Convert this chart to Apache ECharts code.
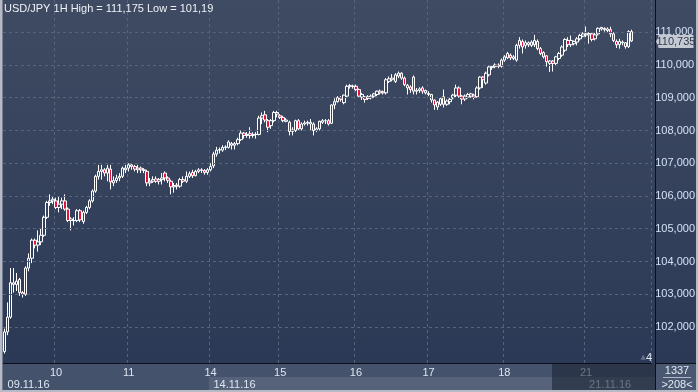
<!DOCTYPE html>
<html><head><meta charset="utf-8">
<script src="https://cdn.jsdelivr.net/npm/echarts@6/dist/echarts.min.js"></script>
<style>html,body{margin:0;padding:0;background:#2d3a55;}#c{width:698px;height:392px;}</style>
</head><body><div id="c"></div>
<script>
// ---- data ----
const titleText = 'USD/JPY 1H High = 111,175 Low = 101,19';
const dayNames  = ['09','10','11','14','15','16','17','18','21'];
const dayCounts = [17,24,27,23,25,24,25,27,16];
const weekLabels = {'09':'09.11.16','14':'14.11.16','21':'21.11.16'};
const padSlots = 6;
const yTicks = [102,103,104,105,106,107,108,109,110,111];
const lastPrice = 110.735;
const barCountText = '1337';
const visibleText = '>208<';
// [open, close, low, high]
const ohlc = [
[101.25,101.85,101.19,101.95],[101.85,102.3,101.75,102.75],[102.3,103.35,102.25,103.8],[103.35,103.3,103.05,103.8],
[103.3,103.4,103.1,103.65],[103.45,103.05,102.95,103.5],[103.05,103.0,102.9,103.1],[103.0,103.8,102.95,103.85],
[103.8,104.1,103.7,104.25],[104.1,104.65,103.95,104.7],[104.65,104.5,104.4,104.7],[104.5,104.6,104.3,104.95],
[104.6,104.8,104.5,105.0],[104.8,105.35,104.75,105.4],[105.35,105.8,105.3,105.85],[105.8,105.85,105.7,106.05],
[105.85,105.9,105.75,106.0],[105.85,105.65,105.6,105.95],[105.65,105.75,105.5,106.0],[105.75,105.85,105.6,105.95],
[105.85,105.6,105.55,106.05],[105.6,105.25,105.2,105.65],[105.25,105.3,104.95,105.35],[105.25,105.25,105.1,105.35],
[105.25,105.55,105.2,105.6],[105.55,105.27,105.2,105.6],[105.22,105.5,105.15,105.55],[105.5,105.65,105.45,105.7],
[105.65,105.85,105.6,105.9],[105.85,106.15,105.8,106.2],[106.15,106.6,106.1,106.65],[106.6,106.75,106.5,106.95],
[106.75,106.8,106.5,106.95],[106.8,106.7,106.6,106.85],[106.7,106.85,106.45,106.95],[106.82,106.43,106.2,106.95],
[106.4,106.47,106.3,106.6],[106.47,106.55,106.4,106.65],[106.55,106.6,106.45,106.7],[106.6,106.85,106.55,106.9],
[106.8,106.85,106.7,106.95],[106.85,106.95,106.75,107.0],[106.95,106.9,106.8,107.0],[106.9,106.82,106.75,106.95],
[106.8,106.85,106.7,106.95],[106.85,106.8,106.7,106.9],[106.8,106.78,106.7,106.85],[106.75,106.4,106.3,106.8],
[106.4,106.45,106.3,106.55],[106.45,106.5,106.4,106.6],[106.52,106.45,106.4,106.6],[106.45,106.5,106.35,106.55],
[106.5,106.55,106.35,106.7],[106.7,106.55,106.45,106.75],[106.55,106.48,106.4,106.6],[106.45,106.28,106.05,106.5],
[106.28,106.32,106.1,106.4],[106.33,106.3,106.2,106.4],[106.3,106.5,106.25,106.55],[106.5,106.45,106.4,106.6],
[106.45,106.6,106.4,106.75],[106.6,106.68,106.55,106.75],[106.72,106.62,106.55,106.8],[106.62,106.75,106.6,106.8],
[106.75,106.8,106.7,106.85],[106.8,106.78,106.7,106.85],[106.78,106.72,106.65,106.82],[106.72,106.8,106.65,106.85],
[106.8,106.9,106.75,107.0],[106.92,107.28,106.85,107.35],[107.28,107.4,107.2,107.5],[107.4,107.42,107.3,107.48],
[107.4,107.48,107.35,107.55],[107.48,107.5,107.4,107.55],[107.48,107.65,107.45,107.7],[107.6,107.55,107.42,107.65],
[107.55,107.6,107.42,107.65],[107.6,107.72,107.55,107.78],[107.72,107.92,107.68,108.0],[107.92,107.85,107.75,107.95],
[107.85,107.88,107.78,107.95],[107.9,107.85,107.75,108.1],[107.85,107.88,107.78,107.95],[107.88,107.88,107.75,107.95],
[107.88,108.38,107.85,108.45],[108.38,108.45,108.2,108.55],[108.48,108.32,108.25,108.6],[108.3,108.1,107.95,108.35],
[108.15,108.3,108.05,108.35],[108.3,108.55,108.25,108.6],[108.5,108.55,108.4,108.6],[108.45,108.4,108.35,108.5],
[108.4,108.3,108.25,108.45],[108.28,108.32,108.25,108.38],[108.25,107.97,107.85,108.3],[107.97,108.02,107.85,108.1],
[108.0,108.3,107.95,108.33],[108.3,108.05,108.0,108.35],[108.05,108.2,108.0,108.25],[108.2,108.23,108.15,108.3],
[108.22,108.25,108.15,108.3],[108.2,108.25,108.0,108.35],[108.2,108.0,107.85,108.25],[108.0,108.05,107.95,108.1],
[108.05,108.28,108.0,108.3],[108.25,108.3,108.2,108.35],[108.3,108.3,108.2,108.35],[108.3,108.2,108.15,108.35],
[108.22,108.78,108.2,108.8],[108.78,108.88,108.65,108.98],[108.88,109.0,108.85,109.05],[109.0,108.95,108.88,109.05],
[108.85,109.08,108.8,109.1],[109.05,109.35,109.0,109.4],[109.35,109.37,109.28,109.42],[109.35,109.35,109.28,109.4],
[109.35,109.25,109.2,109.4],[109.25,109.05,109.0,109.28],[109.02,109.1,108.93,109.15],[109.02,108.95,108.85,109.05],
[108.98,109.03,108.93,109.08],[109.0,109.05,108.95,109.1],[109.05,109.12,109.0,109.15],[109.1,109.2,109.05,109.22],
[109.2,109.15,109.1,109.25],[109.15,109.18,109.1,109.22],[109.15,109.55,109.1,109.6],[109.5,109.58,109.45,109.65],
[109.55,109.6,109.5,109.72],[109.5,109.7,109.45,109.75],[109.66,109.75,109.6,109.8],[109.75,109.6,109.55,109.78],
[109.6,109.4,109.35,109.65],[109.3,109.38,109.1,109.42],[109.33,109.25,109.15,109.38],[109.63,109.2,109.1,109.68],
[109.2,109.23,109.1,109.3],[109.22,109.27,109.15,109.32],[109.3,109.2,109.12,109.35],[109.15,109.22,109.1,109.25],
[109.1,109.13,109.05,109.2],[109.1,108.93,108.85,109.12],[108.93,108.78,108.63,108.95],[108.72,108.87,108.63,108.9],
[108.8,108.97,108.75,109.0],[109.03,108.8,108.7,109.25],[108.8,108.9,108.75,108.95],[108.88,108.95,108.8,109.0],
[109.0,109.08,108.95,109.12],[109.08,109.3,109.0,109.4],[109.3,109.05,109.0,109.35],[109.05,108.96,108.8,109.08],
[108.96,109.05,108.9,109.1],[109.02,109.1,108.98,109.15],[109.05,109.12,109.0,109.15],[109.08,109.02,108.95,109.12],
[109.03,109.3,109.0,109.35],[109.3,109.63,109.25,109.66],[109.63,109.55,109.3,109.66],[109.45,109.75,109.4,109.8],
[109.7,109.94,109.65,109.98],[109.92,109.95,109.85,110.0],[109.95,110.0,109.9,110.05],[110.0,109.96,109.9,110.05],
[109.96,110.15,109.92,110.2],[110.15,110.25,110.1,110.3],[110.22,110.35,110.18,110.4],[110.3,110.22,110.15,110.35],
[110.2,110.25,110.15,110.3],[110.15,110.6,110.1,110.65],[110.6,110.75,110.5,110.85],[110.72,110.55,110.35,110.78],
[110.6,110.68,110.5,110.75],[110.62,110.68,110.55,110.72],[110.6,110.7,110.55,110.75],[110.62,110.75,110.55,110.92],
[110.72,110.5,110.45,110.78],[110.5,110.35,110.3,110.55],[110.38,110.25,110.2,110.42],[110.28,110.1,109.95,110.3],
[110.05,110.12,109.79,110.15],[110.12,110.05,109.8,110.15],[110.05,110.25,110.0,110.28],[110.2,110.35,110.15,110.4],
[110.3,110.55,110.25,110.6],[110.45,110.78,110.4,110.82],[110.75,110.62,110.55,110.85],[110.62,110.75,110.55,110.9],
[110.65,110.72,110.6,110.75],[110.7,110.8,110.6,110.85],[110.8,110.9,110.75,110.95],[110.88,110.95,110.85,111.0],
[110.92,110.95,110.85,111.175],[110.92,110.96,110.65,111.0],[110.95,110.78,110.72,110.98],[110.8,110.92,110.75,110.98],
[110.95,111.12,110.9,111.15],[111.1,111.15,111.05,111.16],[111.12,111.08,111.02,111.15],[111.05,111.1,111.0,111.15],
[111.08,110.95,110.85,111.17],[110.95,110.75,110.7,111.0],[110.72,110.62,110.52,110.78],[110.62,110.72,110.5,110.8],
[110.68,110.7,110.6,110.75],[110.68,110.56,110.5,110.7],[110.56,111.02,110.52,111.06],[111.02,110.735,110.7,111.08]
];

// ---- build ----
const FONT = "'Liberation Sans Narrow','Arial Narrow','Liberation Sans',Arial,sans-serif";
const categories = [];
dayNames.forEach((d, i) => { for (let k = 0; k < dayCounts[i]; k++) categories.push(d + ':' + k); });
for (let k = 0; k < padSlots; k++) categories.push('pad:' + k);
const isDayStart = (idx) => { const v = categories[idx]; return v && v.endsWith(':0') && !v.startsWith('pad') && !v.startsWith('09'); };
const isWeekStart = (idx) => { const v = categories[idx]; return v && v.endsWith(':0') && weekLabels[v.split(':')[0]] !== undefined; };

const fmtPrice = v => v.toFixed(3).replace('.', ',');
const gridColor = '#56637b';

const chart = echarts.init(document.getElementById('c'), null, {renderer: 'canvas'});
const option = {
  animation: false,
  backgroundColor: {type: 'linear', x: 0, y: 0, x2: 0, y2: 1,
    colorStops: [{offset: 0, color: '#3f4b62'}, {offset: 0.93, color: '#2c3956'}, {offset: 1, color: '#2c3956'}]},
  title: {text: titleText, left: 4, top: 3, padding: 0,
    textStyle: {color: '#eef2f8', fontSize: 11, fontWeight: 'normal', fontFamily: FONT}},
  grid: {left: 3, right: 43, top: 0, bottom: 29, containLabel: false},
  xAxis: [{
    type: 'category', data: categories, boundaryGap: true,
    axisLine: {show: true, lineStyle: {color: '#0c1018', width: 1}},
    axisTick: {show: false},
    axisLabel: {interval: (i) => isDayStart(i), formatter: v => v.split(':')[0],
      color: '#dde6f3', fontSize: 11, fontFamily: FONT, margin: 4},
    splitLine: {show: true, interval: (i) => isDayStart(i), lineStyle: {color: gridColor, type: [3, 3], width: 1}}
  }, {
    type: 'category', data: categories, boundaryGap: true, position: 'bottom', offset: 12,
    axisLine: {show: false}, axisTick: {show: false}, splitLine: {show: false},
    axisLabel: {interval: (i) => isWeekStart(i), formatter: v => weekLabels[v.split(':')[0]] || '',
      align: 'left', padding: [0, 0, 0, 3], color: '#dde6f3', fontSize: 11, fontFamily: FONT, margin: 4}
  }],
  yAxis: {
    type: 'value', position: 'right', min: 100.9, max: 111.985, splitNumber: 11, scale: true,
    axisLine: {show: false}, axisTick: {show: false}, splitLine: {show: false},
    axisLabel: {showMinLabel: false, showMaxLabel: false, margin: 4, color: '#d3e1f5', fontSize: 11, fontFamily: FONT,
      formatter: v => yTicks.some(t => Math.abs(t - v) < 1e-6) ? fmtPrice(v) : ''}
  },
  series: [{
    type: 'line', data: [], z: 0, silent: true, xAxisIndex: 0,
    markLine: {silent: true, symbol: ['none', 'none'], label: {show: false}, animation: false,
      lineStyle: {color: gridColor, type: [3, 3], width: 1},
      data: yTicks.map(v => ({yAxis: v}))}
  }, {
    type: 'candlestick', data: ohlc, xAxisIndex: 0, barWidth: 3, z: 3,
    itemStyle: {color: 'transparent', color0: '#e5133c', borderColor: '#ffffff', borderColor0: '#ffffff', borderWidth: 1}
  }]
};
chart.setOption(option);

// chrome positioned after layout
const band = 652 / categories.length;
const xOf = (idx) => chart.convertToPixel({xAxisIndex: 0}, categories[idx]) - band / 2;
const w14 = categories.indexOf('14:0'), w21 = categories.indexOf('21:0');
const x14 = xOf(w14), x21 = xOf(w21);
const yLast = Math.round(chart.convertToPixel({yAxisIndex: 0}, lastPrice)) + 0.5;
chart.setOption({graphic: [
  {type: 'rect', z: -5, shape: {x: 3, y: 364, width: 652, height: 27}, style: {fill: '#45526b'}},
  {type: 'rect', z: -4, shape: {x: x14, y: 377, width: x21 - x14, height: 13}, style: {fill: '#566279'}},
  {type: 'rect', z: -4, shape: {x: x21, y: 377, width: 655 - x21, height: 13}, style: {fill: '#566279'}},
  {type: 'rect', z: 50, shape: {x: 552, y: 364, width: 103, height: 27}, style: {fill: 'rgba(28,36,54,0.6)'}},
  {type: 'rect', z: 50, shape: {x: 656, y: 364, width: 41, height: 27}, style: {fill: '#4a5770'}},
  {type: 'line', z: 60, shape: {x1: 655.5, y1: 0, x2: 655.5, y2: 392}, style: {stroke: '#0c1018', lineWidth: 1}},
  {type: 'line', z: 60, shape: {x1: 655, y1: 363.5, x2: 698, y2: 363.5}, style: {stroke: '#0c1018', lineWidth: 1}},
  {type: 'text', z: 60, x: 677, y: 371, style: {text: barCountText, fill: '#e3eaf4', font: '11px ' + FONT, textAlign: 'center', textVerticalAlign: 'middle'}},
  {type: 'line', z: 60, shape: {x1: 663, y1: 377.5, x2: 691, y2: 377.5}, style: {stroke: '#aeb8c8', lineWidth: 1}},
  {type: 'text', z: 60, x: 677, y: 384.5, style: {text: visibleText, fill: '#e3eaf4', font: '11px ' + FONT, textAlign: 'center', textVerticalAlign: 'middle'}},
  {type: 'text', z: 60, x: 646, y: 357.5, style: {text: '▲', fill: '#65718a', font: '7px DejaVu Sans', textAlign: 'right', textVerticalAlign: 'middle'}},
  {type: 'text', z: 60, x: 652, y: 357.5, style: {text: '4', fill: '#e6edf6', font: '11px ' + FONT, textAlign: 'right', textVerticalAlign: 'middle'}},
  // last price marker
  {type: 'polygon', z: 60, shape: {points: [[656, yLast], [659, yLast - 6], [659, yLast + 6]]}, style: {fill: '#c5cad2'}},
  {type: 'rect', z: 60, shape: {x: 658.5, y: yLast - 6.5, width: 35, height: 13}, style: {fill: '#c5cad2'}},
  {type: 'text', z: 61, x: 676, y: yLast + 0.5, style: {text: fmtPrice(lastPrice), fill: '#2e3a4f', font: '11px ' + FONT, textAlign: 'center', textVerticalAlign: 'middle'}},
  {type: 'rect', z: 70, shape: {x: 0, y: 0, width: 2.5, height: 392}, style: {fill: '#b5bac4'}},
  {type: 'rect', z: 70, shape: {x: 696, y: 0, width: 2, height: 392}, style: {fill: '#b5bac4'}},
  {type: 'rect', z: 70, shape: {x: 0, y: 390, width: 698, height: 2}, style: {fill: '#b5bac4'}}
]});
</script></body></html>
